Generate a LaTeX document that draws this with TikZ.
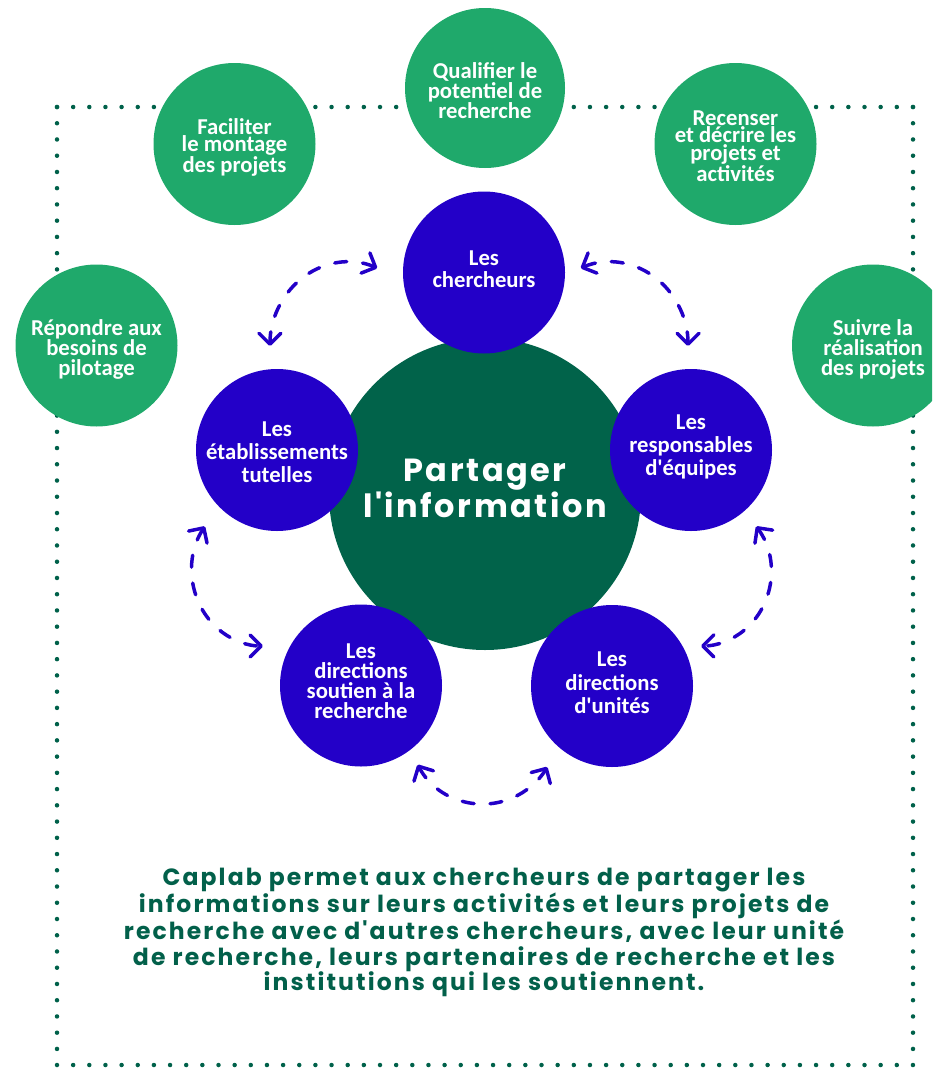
\documentclass[tikz,border=0pt]{standalone}
\usepackage{fontspec}
\setmainfont{Carlito}[Ligatures=TeXOff]
\newfontfamily\popfont{Poppins}[Ligatures=TeXOff,LetterSpace=9]
\newfontfamily\poptitle{Poppins}[Ligatures=TeXOff,LetterSpace=8]
\usetikzlibrary{arrows.meta}
\definecolor{lgreen}{HTML}{1FA96B}
\definecolor{dgreen}{HTML}{01634A}
\definecolor{dblue}{HTML}{2300C8}
\definecolor{dotgreen}{HTML}{00614A}
\definecolor{txtgreen}{HTML}{02604A}
\begin{document}
\begin{tikzpicture}[x=1pt,y=1pt,
  gcirc/.style={circle, fill=lgreen, minimum size=162pt, inner sep=0pt},
  bcirc/.style={circle, fill=dblue, minimum size=162pt, inner sep=0pt},
  ctext/.style={text=white, align=center, inner sep=0pt, font=\bfseries\fontsize{22.7}{#1}\selectfont},
  bigcirc/.style={circle, fill=dgreen, minimum size=312pt, inner sep=0pt},
  dotline/.style={dotgreen, line width=4.5pt, line cap=round},
  tipb/.tip={Straight Barb[length=11pt,width=22pt,round]},
  darrow/.style={dblue, line width=3.5pt, line cap=round, dash pattern=on 12pt off 16pt, tipb-tipb}
]
\useasboundingbox (0,0) rectangle (932,-1068);
\clip (0,0) rectangle (932,-1068);
% dotted frame
\coordinate (tl) at (57,-107);
\coordinate (tr) at (913,-107);
\coordinate (bl) at (57,-1065);
\coordinate (br) at (913,-1065);
\draw[dotline, dash pattern=on 0pt off 16.15pt] (tl) -- (tr);
\draw[dotline, dash pattern=on 0pt off 16.15pt] (bl) -- (br);
\draw[dotline, dash pattern=on 0pt off 16.24pt] (tl) -- (bl);
\draw[dotline, dash pattern=on 0pt off 16.24pt] (tr) -- (br);
% green circles
\node[gcirc, minimum size=160pt] (qual) at (485,-88) {};
\node[ctext=17.8] (qualt) at ([yshift=-2.5pt]qual.center) {Qualifier le\\potentiel de\\recherche};
\node[gcirc] (facil) at (234.5,-144) {};
\node[ctext=17.6] (facilt) at ([yshift=-3.5pt]facil.center) {Faciliter\\le montage\\des projets};
\node[gcirc] (recens) at (735.5,-144) {};
\node[ctext=17.5] (recenst) at ([yshift=-2pt]recens.center) {Recenser\\et décrire les\\projets et\\activités};
\node[gcirc] (repond) at (96.5,-345.5) {};
\node[ctext=20] (repondt) at ([yshift=-4pt]repond.center) {Répondre aux\\besoins de\\pilotage};
\node[gcirc] (suivre) at (873,-345.5) {};
\node[ctext=20] (suivret) at ([yshift=-4pt]suivre.center) {Suivre la\\réalisation\\des projets};
% big circle
\node[bigcirc] (big) at (485,-494) {};
\node[font=\poptitle\bfseries\fontsize{32}{36}\selectfont, text=white, align=center] (title) at (485,-488) {Partager\\l'information};
% blue circles
\node[bcirc] (cherch) at (484,-272.5) {};
\node[ctext=22.5] (cherch-t) at ([yshift=3.5pt]cherch.center) {Les\\chercheurs};
\node[bcirc] (etab) at (277,-450) {};
\node[ctext=23] (etab-t) at ([yshift=-2pt]etab.center) {Les\\établissements\\tutelles};
\node[bcirc] (resp) at (691,-450) {};
\node[ctext=23] (resp-t) at ([yshift=3.5pt]resp.center) {Les\\responsables\\d'équipes};
\node[bcirc] (dsr) at (361,-685.5) {};
\node[ctext=20] (dsr-t) at ([yshift=4pt]dsr.center) {Les\\directions\\soutien à la\\recherche};
\node[bcirc] (du) at (612,-686) {};
\node[ctext=23.3] (du-t) at ([yshift=3pt]du.center) {Les\\directions\\d'unités};
% dashed arrows
\coordinate (a1) at (377.2,-268.1);
\draw[darrow] (a1) arc[start angle=68, end angle=180, x radius=78, y radius=84];
\coordinate (a2) at (580.8,-268.1);
\draw[darrow] (a2) arc[start angle=112, end angle=0, x radius=78, y radius=84];
\coordinate (a3) at (204.8,-526.4);
\draw[darrow] (a3) arc[start angle=145, end angle=270, x radius=71, y radius=76];
\coordinate (a4) at (756.2,-526.4);
\draw[darrow] (a4) arc[start angle=38, end angle=-90, x radius=70, y radius=74];
\coordinate (a5) at (417.7,-764.7);
\draw[darrow] (a5) arc[start angle=208, end angle=330, radius=74];
% caption
\node[font=\popfont\bfseries\fontsize{23.5}{25.8}\selectfont, text=txtgreen, align=center] (caption) at (484,-932.5) {Caplab permet aux chercheurs de partager les\\informations sur leurs activités et leurs projets de\\recherche avec d'autres chercheurs, avec leur unité\\de recherche, leurs partenaires de recherche et les\\institutions qui les soutiennent.};
\end{tikzpicture}
\end{document}
